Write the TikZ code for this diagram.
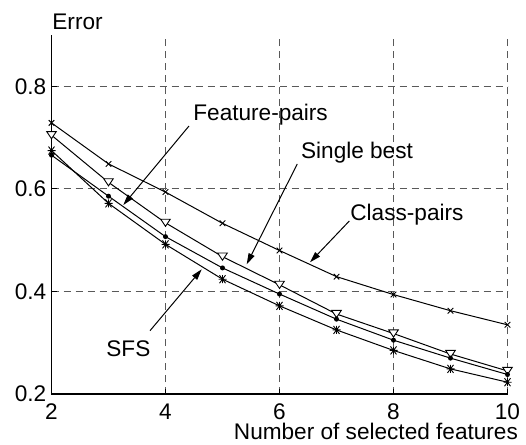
\documentclass[tikz,border=0pt]{standalone}
\usepackage{fontspec}
\setmainfont{Liberation Sans}
\usetikzlibrary{arrows.meta}
\begin{document}
\begin{tikzpicture}[x=28.5pt,y=256.25pt,
  txt/.style={inner sep=0pt,font=\fontsize{11.3}{13}\selectfont},
  gridline/.style={draw=black!65,line width=0.5pt,dash pattern=on 3.5pt off 2.5pt},
  curve/.style={line width=0.5pt},
  pointer/.style={line width=0.5pt,-{Triangle[length=5.5pt,width=3.2pt]}},
]
\useasboundingbox (1.0965,0.1005) rectangle (10.3246,0.9688);
% grid
\foreach \gx in {4,6,8,10} \draw[gridline] (\gx,0.2) -- (\gx,0.9);
\foreach \gy in {0.4,0.6,0.8} \draw[gridline] (2,\gy) -- (10,\gy);
% axes
\draw[line width=0.6pt] (2,0.9) -- (2,0.2) -- (10,0.2);
\foreach \gx in {4,6,8,10} \draw[line width=0.5pt] (\gx,0.2) -- ++(0,2.5pt);
\foreach \gy in {0.4,0.6,0.8} \draw[line width=0.5pt] (2,\gy) -- ++(2.5pt,0);
% tick labels
\foreach \gx/\nm in {2/a,4/b,6/c,8/d,10/e} \node[txt,anchor=base] (xl\nm) at (\gx,0.150) {\gx};
\foreach \gy/\nm in {0.2/a,0.4/b,0.6/c,0.8/d} \node[txt,anchor=east] (yl\nm) at (1.916,\gy) {\gy};
\node[txt,anchor=base west] (ylabel) at (2.009,0.9116) {Error};
\node[txt,anchor=base east] (xlabel) at (10.189,0.1116) {Number of selected features};
% curves
\draw[curve] plot coordinates {(2,.729) (3,.649) (4,.594) (5,.533) (6,.480) (7,.429) (8,.394) (9,.3625) (10,.335)};
\draw[curve] plot coordinates {(2,.705) (3,.613) (4,.534) (5,.468) (6,.413) (7,.356) (8,.318) (9,.278) (10,.245)};
\draw[curve] plot coordinates {(2,.666) (3,.586) (4,.507) (5,.446) (6,.395) (7,.346) (8,.305) (9,.270) (10,.238)};
\draw[curve] plot coordinates {(2,.675) (3,.572) (4,.492) (5,.424) (6,.372) (7,.325) (8,.285) (9,.249) (10,.223)};
% markers: class-pairs (x)
\foreach \px/\py in {2/.729,3/.649,4/.594,5/.533,6/.480,7/.429,8/.394,9/.3625,10/.335}
  \draw[line width=0.45pt] (\px,\py) ++(-1.4pt,-1.4pt) -- ++(2.8pt,2.8pt) ++(-2.8pt,0) -- ++(2.8pt,-2.8pt);
% single best (open triangle down)
\foreach \px/\py in {2/.705,3/.613,4/.534,5/.468,6/.413,7/.356,8/.318,9/.278,10/.245}
  \draw[line width=0.45pt,fill=white] (\px,\py) ++(-2.4pt,1.8pt) -- ++(4.8pt,0) -- ++(-2.4pt,-3.6pt) -- cycle;
% feature-pairs (dot)
\foreach \px/\py in {2/.666,3/.586,4/.507,5/.446,6/.395,7/.346,8/.305,9/.270,10/.238}
  \fill (\px,\py) circle (1.25pt);
% SFS (asterisk)
\foreach \px/\py in {2/.675,3/.572,4/.492,5/.424,6/.372,7/.325,8/.285,9/.249,10/.223}
  \draw[line width=0.45pt] (\px,\py) ++(-2pt,0) -- ++(4pt,0) ++(-2pt,-2pt) -- ++(0,4pt)
     ++(-1.5pt,0) -- ++(3pt,-4pt) ++(-3pt,0) -- ++(3pt,4pt);
% labels
\node[txt,anchor=base west] (fp) at (4.482,0.7346) {Feature-pairs};
\node[txt,anchor=base west] (sb) at (6.372,0.660) {Single best};
\node[txt,anchor=base west] (cp) at (7.237,0.5395) {Class-pairs};
\node[txt,anchor=base west] (sfs) at (2.956,0.2728) {SFS};
% arrow ends
\coordinate (fpt) at (4.412,0.7229); \coordinate (fph) at (3.26,0.5688);
\coordinate (sbt) at (6.312,0.6488); \coordinate (sbh) at (5.424,0.4531);
\coordinate (cpt) at (7.225,0.5376); \coordinate (cph) at (6.535,0.457);
\coordinate (sft) at (3.728,0.3235); \coordinate (sfh) at (4.635,0.4433);
\draw[pointer] (fpt) -- (fph);
\draw[pointer] (sbt) -- (sbh);
\draw[pointer] (cpt) -- (cph);
\draw[pointer] (sft) -- (sfh);
\end{tikzpicture}
\end{document}
